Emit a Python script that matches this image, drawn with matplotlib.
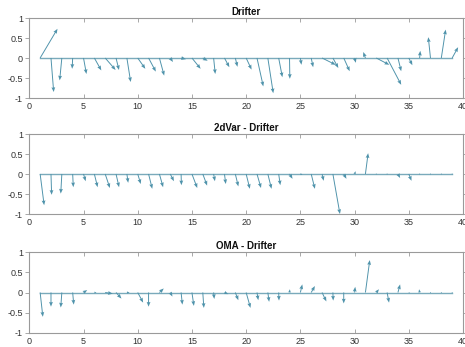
import numpy as np
import matplotlib
matplotlib.use("Agg")
import matplotlib.pyplot as plt

plt.rcParams['font.family'] = ['Liberation Sans', 'DejaVu Sans']

titles = ["Drifter", "2dVar - Drifter", "OMA - Drifter"]

# Feather components (u, v) at positions 1..39
drifter_u = [1.6, 0.25, -0.2, -0.05, 0.27, 0.64, 0.96, 0.27, 0.35, 0.7,
             0.67, 0.44, 0.25, 0.45, 0.8, 0.45, 0.15, 0.45, 0.2, 0.5,
             0.58, 0.5, 0.34, 0.03, 0.1, 0.18, 1.26, 0.5, 0.55, 0.12,
             -0.2, 1.2, 1.3, 0.3, 0.33, 0.06, -0.2, 0.4, 0.55]
drifter_v = [0.73, -0.85, -0.56, -0.27, -0.4, -0.31, -0.3, -0.3, -0.6, -0.27,
             -0.34, -0.44, -0.1, -0.03, -0.27, -0.07, -0.4, -0.23, -0.22, -0.29,
             -0.71, -0.88, -0.48, -0.52, -0.17, -0.23, -0.17, -0.25, -0.33, -0.12,
             0.15, -0.17, -0.67, -0.33, -0.18, 0.18, 0.52, 0.71, 0.27]

var2d_u = [0.37, 0.06, -0.1, 0.06, 0.2, 0.3, 0.43, 0.28, 0.12, 0.28,
           0.34, 0.34, 0.34, 0.03, 0.49, 0.4, 0.12, 0.12, 0.28, 0.34,
           0.37, 0.34, 0.15, 0.28, 0.2, 0.34, 0.15, 0.65, 0.25, 0.1,
           0.25, 0.0, 0.0, 0.2, 0.25, 0.0, 0.0, 0.0, 0.0]
var2d_v = [-0.78, -0.52, -0.49, -0.33, -0.18, -0.33, -0.35, -0.33, -0.22, -0.25,
           -0.37, -0.33, -0.18, -0.28, -0.35, -0.29, -0.18, -0.25, -0.31, -0.37,
           -0.35, -0.37, -0.28, -0.12, -0.02, -0.37, -0.17, -1.0, -0.12, 0.07,
           0.52, 0.0, 0.0, -0.1, -0.17, 0.0, 0.0, 0.0, 0.0]

oma_u = [0.25, 0.0, -0.1, 0.1, 0.34, 0.2, 0.7, 0.5, 0.25, 0.5,
         0.0, 0.4, 0.2, 0.12, 0.18, 0.1, 0.06, 0.35, 0.28, 0.4,
         0.12, 0.12, 0.03, 0.03, 0.18, 0.34, 0.4, 0.03, 0.0, 0.06,
         0.4, 0.25, 0.18, 0.2, 0.1, -0.05, 0.0, 0.0, 0.0]
oma_v = [-0.6, -0.35, -0.37, -0.3, 0.06, 0.0, -0.03, -0.15, 0.0, -0.25,
         -0.35, 0.1, -0.1, -0.3, -0.33, -0.38, -0.16, -0.04, -0.19, -0.38,
         -0.19, -0.23, -0.2, 0.08, 0.2, 0.16, -0.22, -0.2, -0.27, 0.14,
         0.8, 0.08, -0.25, 0.2, -0.02, 0.08, 0.0, 0.0, 0.0]

xticks = [0, 5, 10, 15, 20, 25, 30, 35, 40]
yticks = [-1, -0.5, 0, 0.5, 1]
yticklabels = ["-1", "-0.5", "0", "0.5", "1"]

series = [(drifter_u, drifter_v), (var2d_u, var2d_v), (oma_u, oma_v)]

W, H = 465, 347
fig = plt.figure(figsize=(W / 100, H / 100), dpi=100)

# axes boxes in pixels: (left, top, right, bottom)
boxes = [(29.3, 18, 463, 98), (29.3, 134, 463, 214), (29.3, 252, 463, 333)]

arrow_color = '#4f93ab'
line_color = '#7aaabb'
spine_color = '#9a9a9a'

for (u, v), title, (l, t, r, b) in zip(series, titles, boxes):
    ax = fig.add_axes([l / W, 1 - b / H, (r - l) / W, (b - t) / H])
    u = np.asarray(u)
    v = np.asarray(v)
    x = np.arange(1, len(u) + 1)
    ax.plot(x, np.zeros_like(x, dtype=float), color=line_color, lw=1.0, zorder=1)
    ax.quiver(x, np.zeros_like(u), u, v, angles='xy', scale_units='xy', scale=1,
              color=arrow_color, width=0.0022, headwidth=4, headlength=5,
              headaxislength=4.5, zorder=2)
    ax.set_xlim(0, 40)
    ax.set_ylim(-1, 1)
    ax.set_xticks(xticks)
    ax.set_yticks(yticks)
    ax.set_yticklabels(yticklabels)
    ax.tick_params(axis='x', direction='in', length=3, width=0.6, colors=spine_color,
                   labelcolor='#333333', labelsize=6.5, top=True, pad=3)
    ax.tick_params(axis='y', direction='out', length=3, width=0.6, colors=spine_color,
                   labelcolor='#333333', labelsize=6.5, pad=1.5)
    ax.tick_params(axis='y', which='both', right=True)
    for s in ax.spines.values():
        s.set_color(spine_color)
        s.set_linewidth(0.8)
    ax.set_title(title, fontsize=7, fontweight='bold', pad=2, color='#111111')

fig.savefig("out.png", dpi=100)
